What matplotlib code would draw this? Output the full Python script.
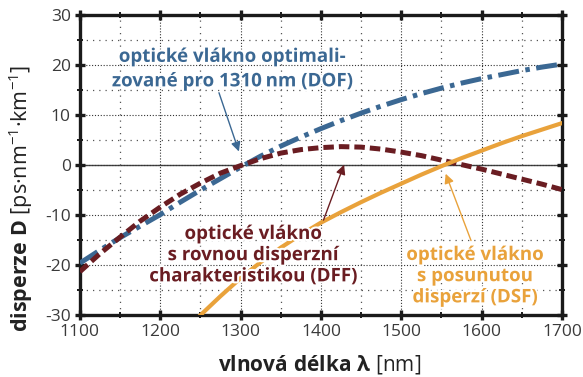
import numpy as np
import matplotlib
matplotlib.use("Agg")
import matplotlib.pyplot as plt
import matplotlib.patheffects as pe

plt.rcParams['font.family'] = ['Open Sans', 'DejaVu Sans']
plt.rcParams['axes.unicode_minus'] = False
plt.rcParams['mathtext.fontset'] = 'custom'
plt.rcParams['mathtext.rm'] = 'Open Sans'
plt.rcParams['mathtext.bf'] = 'Open Sans:bold'
plt.rcParams['mathtext.it'] = 'Open Sans:italic'

# wavelength grid (nm) for the three fibre types
wl = [1100, 1125, 1150, 1175, 1200, 1225, 1250, 1275, 1300, 1325, 1350, 1375,
      1400, 1425, 1450, 1475, 1500, 1525, 1550, 1575, 1600, 1625, 1650, 1675, 1700]
d_dof = [-19.6, -17.0, -14.5, -12.2, -9.9, -7.4, -5.0, -2.7, -0.4, 1.8, 3.8, 5.6,
         7.3, 8.9, 10.4, 11.8, 13.1, 14.3, 15.4, 16.4, 17.3, 18.1, 18.9, 19.6, 20.2]
d_dff = [-21.3, -17.7, -14.4, -11.2, -8.4, -5.8, -3.6, -1.6, -0.1, 1.3, 2.4, 3.1,
         3.5, 3.7, 3.6, 3.2, 2.6, 1.9, 1.0, 0.1, -0.8, -1.8, -2.8, -3.8, -4.9]
wl_dsf = [1250, 1275, 1300, 1325, 1350, 1375, 1400, 1425, 1450, 1475, 1500,
          1525, 1550, 1575, 1600, 1625, 1650, 1675, 1700]
d_dsf = [-30.0, -26.2, -22.6, -19.4, -16.5, -13.9, -11.5, -9.4, -7.4, -5.5, -3.7,
         -1.9, -0.2, 1.4, 2.9, 4.4, 5.8, 7.1, 8.4]

x_ticks = [1100, 1200, 1300, 1400, 1500, 1600, 1700]
y_ticks = [-30, -20, -10, 0, 10, 20, 30]

c_dof = '#3b6893'
c_dff = '#6a1d22'
c_dsf = '#e9a23b'

fig = plt.figure(figsize=(5.83, 3.77), dpi=100)
ax = fig.add_axes([0.137, 0.164, 0.827, 0.796])

ax.set_xlim(1100, 1700)
ax.set_ylim(-30, 30)
ax.set_xticks(x_ticks)
ax.set_yticks(y_ticks)
ax.set_xticks(np.arange(1150, 1700, 100), minor=True)
ax.set_yticks(np.arange(-25, 30, 10), minor=True)

# dotted grid, denser dots on major lines
ax.grid(which='major', linestyle=(0, (1, 1.6)), linewidth=0.8, color='#333333')
ax.grid(which='minor', linestyle=(0, (1, 4)), linewidth=0.9, color='#555555')
ax.axhline(0, color='#444444', linewidth=1.0, zorder=1.5)

for s in ax.spines.values():
    s.set_linewidth(2.4)
    s.set_color('#1a1a1a')
ax.tick_params(which='major', direction='inout', length=7, width=2.4,
               top=True, right=True, labelsize=12.5, labelcolor='#3a3a3a',
               color='#1a1a1a', pad=3)
ax.tick_params(which='minor', direction='inout', length=4, width=1.4,
               top=True, right=True, color='#1a1a1a')

ax.plot(wl, d_dof, color=c_dof, linewidth=3.6, dashes=(4.2, 1.3, 0.9, 1.3), zorder=3)
ax.plot(wl, d_dff, color=c_dff, linewidth=3.6, dashes=(2.1, 1.0), zorder=3)
ax.plot(wl_dsf, d_dsf, color=c_dsf, linewidth=3.0, zorder=3)

halo = [pe.withStroke(linewidth=3, foreground='white')]

ax.annotate('', xy=(1299, 2.2), xytext=(1272, 15),
            arrowprops=dict(arrowstyle='-|>', color=c_dof, lw=1.0,
                            mutation_scale=14), zorder=4)
ax.annotate('', xy=(1430, 0.6), xytext=(1402, -11.5),
            arrowprops=dict(arrowstyle='-|>', color=c_dff, lw=1.0,
                            mutation_scale=14), zorder=4)
ax.annotate('', xy=(1554, -1.2), xytext=(1588, -15.6),
            arrowprops=dict(arrowstyle='-|>', color=c_dsf, lw=1.0,
                            mutation_scale=14), zorder=4)

ax.text(1290, 19.2, 'optické vlákno optimali-\nzované pro 1310\u2009nm (DOF)',
        color=c_dof, fontsize=13.5, fontweight='bold', ha='center', va='center',
        linespacing=1.3, path_effects=halo, zorder=5)
ax.text(1316, -18.0, 'optické vlákno\ns rovnou disperzní\ncharakteristikou (DFF)',
        color=c_dff, fontsize=13.5, fontweight='bold', ha='center', va='center',
        linespacing=1.08, path_effects=halo, zorder=5)
ax.text(1592, -22.2, 'optické vlákno\ns posunutou\ndisperzí (DSF)',
        color=c_dsf, fontsize=13.5, fontweight='bold', ha='center', va='center',
        linespacing=1.08, path_effects=halo, zorder=5)

fig.text(0.549, 0.032, r'$\mathbf{vlnová\ délka\ λ}$ [nm]', fontsize=15,
         color='#222222', ha='center', va='center')
fig.text(0.036, 0.475, r'$\mathbf{disperze\ D}$ [ps·nm$^{-1}$·km$^{-1}$]', fontsize=15.5,
         color='#222222', ha='center', va='center', rotation=90)

fig.savefig('out.png', dpi=100)
